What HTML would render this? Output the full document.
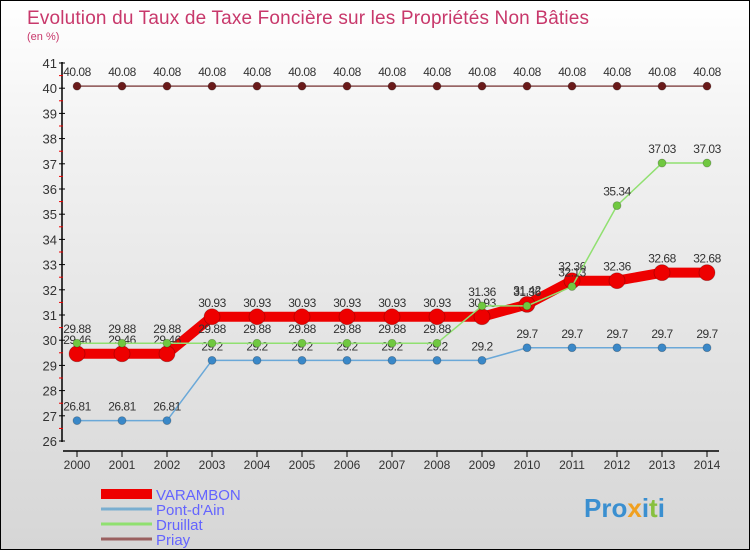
<!DOCTYPE html>
<html><head><meta charset="utf-8"><style>
body{margin:0}
#c{width:748px;height:548px;border:1px solid #000;background:linear-gradient(#ffffff,#f0f0f0 30%,#d6d6d6);position:relative;font-family:"Liberation Sans","DejaVu Sans",sans-serif;overflow:hidden}
</style></head><body>
<div id="c">
<svg id="s" width="748" height="548" xmlns="http://www.w3.org/2000/svg">
<text x="26" y="23" font-size="19" fill="#c8386b" textLength="562">Evolution du Taux de Taxe Foncière sur les Propriétés Non Bâties</text>
<text x="26" y="39" font-size="11" fill="#c8386b">(en %)</text>
<g id="axes"></g>
<g id="series"></g>
<g id="legend"></g>
<text x="583" y="516" font-size="26" font-weight="bold" fill="#3a8fd0">Pro<tspan fill="#f0a020">x</tspan>i<tspan fill="#88c040">t</tspan>i</text>
</svg></div>
<script>
const years=[2000,2001,2002,2003,2004,2005,2006,2007,2008,2009,2010,2011,2012,2013,2014];
const varambon=[29.46,29.46,29.46,30.93,30.93,30.93,30.93,30.93,30.93,30.93,31.42,32.36,32.36,32.68,32.68];
const pontdain=[26.81,26.81,26.81,29.2,29.2,29.2,29.2,29.2,29.2,29.2,29.7,29.7,29.7,29.7,29.7];
const druillat=[29.88,29.88,29.88,29.88,29.88,29.88,29.88,29.88,29.88,31.36,31.36,32.13,35.34,37.03,37.03];
const priay=[40.08,40.08,40.08,40.08,40.08,40.08,40.08,40.08,40.08,40.08,40.08,40.08,40.08,40.08,40.08];
const yTicks=[26,27,28,29,30,31,32,33,34,35,36,37,38,39,40,41];
const NS="http://www.w3.org/2000/svg";
const X=i=>76+i*45, Y=v=>440-(v-26)*25.2;
function mk(p,t,a){const e=document.createElementNS(NS,t);for(const k in a)e.setAttribute(k,a[k]);p.appendChild(e);return e;}
const ax=document.getElementById('axes');
let l=mk(ax,'line',{x1:61,y1:61,x2:61,y2:441,stroke:'#000','stroke-width':1.5});


l=mk(ax,'line',{x1:62,y1:450,x2:718,y2:450,stroke:'#000','stroke-width':1.5});


yTicks.forEach(v=>{
 mk(ax,'line',{x1:58,y1:Y(v),x2:64,y2:Y(v),stroke:'#000'});
 if(v<41) mk(ax,'line',{x1:58,y1:Y(v+0.5),x2:62,y2:Y(v+0.5),stroke:'#e00'});
 const t=mk(ax,'text',{x:56,y:Y(v)+5,'text-anchor':'end','font-size':13,fill:'#333'});
 t.textContent=v;
 
 
});
years.forEach((y,i)=>{
 mk(ax,'line',{x1:X(i),y1:450,x2:X(i),y2:456,stroke:'#000'});
 const t=mk(ax,'text',{x:X(i),y:468,'text-anchor':'middle','font-size':12,fill:'#333'});
 t.textContent=y;
 
 
});
const sg=document.getElementById('series');
function series(d,name,col,w,r,dot,lab){
 const g=mk(sg,'g',{});
 
 
 mk(g,'polyline',{points:d.map((v,i)=>X(i)+','+Y(v)).join(' '),fill:'none',stroke:col,'stroke-width':w,'stroke-linejoin':'round'});
 d.forEach((v,i)=>{
  const c=mk(g,'circle',{cx:X(i),cy:Y(v),r:r,fill:dot,stroke:'rgba(0,0,0,0.25)','stroke-width':0.8});
  
  
  if(lab){const t=mk(g,'text',{x:X(i),y:Y(v)-10,'text-anchor':'middle','font-size':12,fill:'#333','letter-spacing':'-0.5'});
  t.textContent=v;
  
  }
 });
}
series(priay,'priay','#8a5050',1.5,4,'#6a1a1a',true);
series(pontdain,'pont-dain','#6aa8d8',1.5,4,'#3a88c8',true);
series(varambon,'varambon','#ee0000',10,8,'#ee0000',true);
series(druillat,'druillat','#90e070',1.5,4,'#70c840',true);
const lg=document.getElementById('legend');
[['VARAMBON','#ee0000',10],['Pont-d\'Ain','#7aaed0',3],['Druillat','#90e070',3],['Priay','#9a6060',3]].forEach((e,i)=>{
 const y=493+i*15;
 const g=mk(lg,'g',{});
 
 
 mk(g,'line',{x1:100,y1:y,x2:151,y2:y,stroke:e[1],'stroke-width':e[2]});
 const t=mk(g,'text',{x:155,y:y+6,'font-size':15,fill:'#6464ff'});
 t.textContent=e[0];
});
</script>
</body></html>
